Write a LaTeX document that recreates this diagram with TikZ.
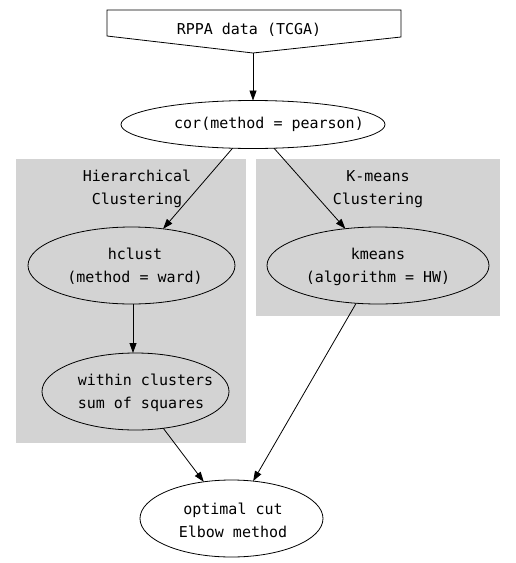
\documentclass[tikz,border=0pt]{standalone}
\usepackage{fontspec}
\setmonofont{DejaVu Sans Mono}
\usetikzlibrary{arrows.meta,shapes.geometric}
\definecolor{clustergray}{RGB}{211,211,211}
\begin{document}
\begin{tikzpicture}[x=1pt,y=-1pt,
  txt/.style={font=\ttfamily\fontsize{15}{23}\selectfont, align=center, inner sep=0pt},
  ell/.style={draw, ellipse, inner sep=0pt, outer sep=0pt, line width=0.8pt},
  edge/.style={draw, line width=0.8pt, -{Triangle[length=10pt,width=7pt]}},
]
\useasboundingbox (0,0) rectangle (515,563);
% clusters
\fill[clustergray] (16,159) rectangle (246,443);
\fill[clustergray] (256,159) rectangle (500,316);
\node[txt] (hlabel) at (137,189) {Hierarchical\\Clustering};
\node[txt] (klabel) at (378,189) {K-means\\Clustering};
% top shape
\draw[line width=0.8pt, fill=white] (107,10) -- (401,10) -- (401,37) -- (253,53) -- (107,36) -- cycle;
\node[txt] (rppa) at (249,30) {RPPA data (TCGA)};
\coordinate (rppabot) at (253,53);
% ellipses
\node[ell, minimum width=264pt, minimum height=48pt,
  label={[txt,xshift=16pt]center:cor(method = pearson)}] (cor) at (253,124.5) {};
\node[ell, minimum width=207pt, minimum height=77pt,
  label={[txt,xshift=3.5pt,yshift=-1pt]center:hclust\\(method = ward)}] (hclust) at (131.5,265.5) {};
\node[ell, minimum width=222pt, minimum height=77pt,
  label={[txt,yshift=-1pt]center:kmeans\\(algorithm = HW)}] (kmeans) at (378,265.5) {};
\node[ell, minimum width=187pt, minimum height=77pt,
  label={[txt,align=left,xshift=10pt,yshift=-1.5pt]center:within clusters\\sum of squares}] (within) at (135.5,391.5) {};
\node[ell, minimum width=183pt, minimum height=77pt,
  label={[txt,xshift=1.5pt,yshift=-1.5pt]center:optimal cut\\Elbow method}] (optimal) at (231.5,518.5) {};
% edges
\draw[edge] (rppabot) -- (cor);
\draw[edge] (cor) -- (hclust);
\draw[edge] (cor) -- (kmeans);
\draw[edge] ([xshift=1.5pt]hclust.south) -- ([xshift=-2.5pt]within.north);
\draw[edge] (kmeans) -- (optimal);
\draw[edge] (within) -- (optimal);
\end{tikzpicture}
\end{document}
